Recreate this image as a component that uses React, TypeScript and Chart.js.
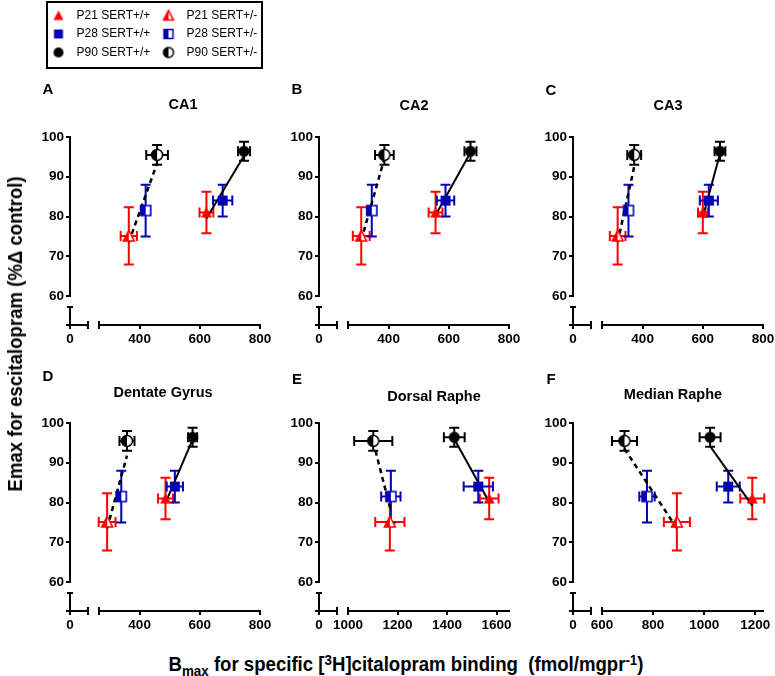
import React, { useEffect, useRef } from 'react';
import { Chart, registerables } from 'chart.js';

Chart.register(...registerables);

const FONT = '"Liberation Sans", Arial, Helvetica, sans-serif';
const RED = '#ff0000';
const BLUE = '#0000b4';
const BLACK = '#000000';

// ---- groups (order: P21 +/+, P21 +/-, P28 +/+, P28 +/-, P90 +/+, P90 +/-)
const GROUPS = ['P21 SERT+/+', 'P21 SERT+/-', 'P28 SERT+/+', 'P28 SERT+/-', 'P90 SERT+/+', 'P90 SERT+/-'];
const GROUP_COLORS = [RED, RED, BLUE, BLUE, BLACK, BLACK];
const GROUP_SHAPES = ['tri', 'tri', 'sq', 'sq', 'circ', 'circ'];
const GROUP_HALF = [false, true, false, true, false, true];

// Emax for escitalopram (% control), same for all regions
const EMAX = [81.0, 75.1, 84.0, 81.5, 96.4, 95.5];
const EMAX_SEM = [5.2, 7.2, 4.0, 6.5, 2.4, 2.5];

// Bmax per region
const CA1_BMAX = [622, 364, 676, 420, 747, 458];
const CA1_BMAX_SEM = [23, 27, 32, 15, 20, 36];
const CA2_BMAX = [556, 309, 589, 344, 672, 386];
const CA2_BMAX_SEM = [23, 28, 29, 15, 20, 31];
const CA3_BMAX = [600, 317, 620, 353, 657, 372];
const CA3_BMAX_SEM = [16, 26, 30, 12, 18, 23];
const DG_BMAX = [486, 292, 517, 339, 576, 358];
const DG_BMAX_SEM = [25, 28, 27, 15, 15, 25];
const DR_BMAX = [1570, 1169, 1526, 1173, 1429, 1102];
const DR_BMAX_SEM = [38, 59, 59, 39, 42, 77];
const MR_BMAX = [1188, 893, 1094, 776, 1023, 688];
const MR_BMAX_SEM = [47, 51, 45, 30, 41, 49];

// fitted lines: [x0, y0, x1, y1]
const CA1_FIT_WT = [622, 79.5, 747, 95.3];
const CA1_FIT_HET = [364, 73.5, 458, 93.4];
const CA2_FIT_WT = [556, 80.3, 672, 96.1];
const CA2_FIT_HET = [309, 74.0, 386, 94.6];
const CA3_FIT_WT = [600, 79.8, 657, 95.8];
const CA3_FIT_HET = [317, 73.5, 372, 92.5];
const DG_FIT_WT = [486, 79.9, 576, 95.8];
const DG_FIT_HET = [292, 73.5, 358, 91.8];
const DR_FIT_WT = [1429, 96.0, 1570, 80.1];
const DR_FIT_HET = [1102, 95.2, 1173, 77.9];
const MR_FIT_WT = [1023, 94.2, 1188, 79.2];
const MR_FIT_HET = [688, 93.5, 893, 73.5];

// tick labels
const Y_TICKS = [60, 70, 80, 90, 100];
const HIPPO_TICKS = [400, 600, 800];
const DR_TICKS = [1000, 1200, 1400, 1600];
const MR_TICKS = [600, 800, 1000, 1200];

const PANELS = [
  { letter: 'A', title: 'CA1', bmax: CA1_BMAX, sem: CA1_BMAX_SEM, fitWT: CA1_FIT_WT, fitHet: CA1_FIT_HET, ticks: HIPPO_TICKS, xmin: 265, xmax: 800, col: 0, row: 0, titleDx: 113, titleDy: -32, letterDy: -47 },
  { letter: 'B', title: 'CA2', bmax: CA2_BMAX, sem: CA2_BMAX_SEM, fitWT: CA2_FIT_WT, fitHet: CA2_FIT_HET, ticks: HIPPO_TICKS, xmin: 265, xmax: 800, col: 1, row: 0, titleDx: 95, titleDy: -31, letterDy: -47 },
  { letter: 'C', title: 'CA3', bmax: CA3_BMAX, sem: CA3_BMAX_SEM, fitWT: CA3_FIT_WT, fitHet: CA3_FIT_HET, ticks: HIPPO_TICKS, xmin: 265, xmax: 800, col: 2, row: 0, titleDx: 95, titleDy: -31, letterDy: -46 },
  { letter: 'D', title: 'Dentate Gyrus', bmax: DG_BMAX, sem: DG_BMAX_SEM, fitWT: DG_FIT_WT, fitHet: DG_FIT_HET, ticks: HIPPO_TICKS, xmin: 265, xmax: 800, col: 0, row: 1, titleDx: 93, titleDy: -30, letterDy: -46 },
  { letter: 'E', title: 'Dorsal Raphe', bmax: DR_BMAX, sem: DR_BMAX_SEM, fitWT: DR_FIT_WT, fitHet: DR_FIT_HET, ticks: DR_TICKS, xmin: 1000, xmax: 1650, col: 1, row: 1, titleDx: 115, titleDy: -26, letterDy: -43 },
  { letter: 'F', title: 'Median Raphe', bmax: MR_BMAX, sem: MR_BMAX_SEM, fitWT: MR_FIT_WT, fitHet: MR_FIT_HET, ticks: MR_TICKS, xmin: 600, xmax: 1230, col: 2, row: 1, titleDx: 100, titleDy: -28, letterDy: -43 },
];

const COL_X = [70, 319, 573];
const ROW_Y = [137, 423];
const LEFT_SPACE = 62;
const TOP_SPACE = 62;
const PLOT_W = 190;
const PLOT_H = 188;
const RIGHT_SPACE = 16;
const BOTTOM_SPACE = 30;
const CW = LEFT_SPACE + PLOT_W + RIGHT_SPACE;
const CH = TOP_SPACE + PLOT_H + BOTTOM_SPACE;

function makeMarker(shape: string, color: string, half: boolean, s: number): HTMLCanvasElement {
  const W = 2 * Math.ceil(s / 2) + 4;
  const c = document.createElement('canvas');
  c.width = W;
  c.height = W;
  const g = c.getContext('2d') as CanvasRenderingContext2D;
  const cx = W / 2;
  const cy = W / 2;
  const r = s / 2;
  const path = () => {
    g.beginPath();
    if (shape === 'tri') {
      const h = s * 0.92;
      g.moveTo(cx, cy - h / 2 - 0.5);
      g.lineTo(cx + r, cy + h / 2);
      g.lineTo(cx - r, cy + h / 2);
      g.closePath();
    } else if (shape === 'sq') {
      g.rect(cx - r, cy - r, s, s);
    } else {
      g.arc(cx, cy, r, 0, Math.PI * 2);
    }
  };
  if (!half) {
    path();
    g.fillStyle = color;
    g.fill();
    return c;
  }
  path();
  g.fillStyle = '#ffffff';
  g.fill();
  g.save();
  path();
  g.clip();
  g.fillStyle = color;
  g.fillRect(0, 0, cx, W);
  g.restore();
  path();
  g.strokeStyle = color;
  g.lineWidth = 1.5;
  g.stroke();
  return c;
}

const errorBarPlugin = {
  id: 'errorBars',
  beforeDatasetsDraw(chart: any) {
    const xs = chart.scales.x2;
    const ys = chart.scales.y2;
    const ctx = chart.ctx;
    ctx.save();
    ctx.lineWidth = 2;
    chart.data.datasets.forEach((ds: any) => {
      if (!ds.errColor) return;
      ctx.strokeStyle = ds.errColor;
      ds.data.forEach((pt: any) => {
        const cx = xs.getPixelForValue(pt.x);
        const cy = ys.getPixelForValue(pt.y);
        const xl = xs.getPixelForValue(pt.x - pt.xe);
        const xr = xs.getPixelForValue(pt.x + pt.xe);
        const yt = ys.getPixelForValue(pt.y + pt.ye);
        const yb = ys.getPixelForValue(pt.y - pt.ye);
        const c = 5;
        ctx.beginPath();
        ctx.moveTo(xl, cy);
        ctx.lineTo(xr, cy);
        ctx.moveTo(xl, cy - c);
        ctx.lineTo(xl, cy + c);
        ctx.moveTo(xr, cy - c);
        ctx.lineTo(xr, cy + c);
        ctx.moveTo(cx, yt);
        ctx.lineTo(cx, yb);
        ctx.moveTo(cx - c, yt);
        ctx.lineTo(cx + c, yt);
        ctx.moveTo(cx - c, yb);
        ctx.lineTo(cx + c, yb);
        ctx.stroke();
      });
    });
    // axis break caps
    const x1 = chart.scales.x1;
    const x2 = chart.scales.x2;
    const y1 = chart.scales.y1;
    const ay = x1.top;
    ctx.strokeStyle = BLACK;
    ctx.beginPath();
    ctx.moveTo(x1.right, ay - 4);
    ctx.lineTo(x1.right, ay + 4);
    ctx.moveTo(x2.left, ay - 4);
    ctx.lineTo(x2.left, ay + 4);
    const ax = y1.right;
    ctx.moveTo(ax - 3, y1.top);
    ctx.lineTo(ax + 3, y1.top);
    ctx.stroke();
    ctx.restore();
  },
};

const panelTextPlugin = {
  id: 'panelText',
  afterDraw(chart: any, _args: any, opts: any) {
    const { left, top } = chart.chartArea;
    const ctx = chart.ctx;
    ctx.save();
    ctx.fillStyle = BLACK;
    ctx.textAlign = 'center';
    ctx.textBaseline = 'middle';
    ctx.font = `bold 15px ${FONT}`;
    ctx.fillText(opts.letter, left - 22, top + opts.letterDy);
    ctx.font = `bold 14.5px ${FONT}`;
    ctx.fillText(opts.title, left + opts.titleDx, top + opts.titleDy);
    ctx.restore();
  },
};

const plainLabel = (v: any) => String(v);

function axisBase(extra: any) {
  const { ticks: extraTicks, ...rest } = extra;
  return {
    type: 'linear',
    grid: { drawOnChartArea: false, drawTicks: true, tickLength: 4, color: BLACK, lineWidth: 2 },
    border: { display: true, color: BLACK, width: 2 },
    ticks: {
      color: BLACK,
      font: { family: FONT, size: 13.5, weight: 'bold' },
      padding: 2,
      autoSkip: false,
      maxRotation: 0,
      minRotation: 0,
      callback: plainLabel,
      ...(extraTicks || {}),
    },
    ...rest,
  };
}

function Panel({ p }: { p: any }) {
  const ref = useRef<HTMLCanvasElement>(null);
  useEffect(() => {
    const markers = GROUPS.map((_, i) =>
      makeMarker(GROUP_SHAPES[i], GROUP_COLORS[i], GROUP_HALF[i], GROUP_SHAPES[i] === 'sq' ? 10 : 11)
    );
    const pointSets = GROUPS.map((g, i) => ({
      label: g,
      data: [{ x: p.bmax[i], y: EMAX[i], xe: p.sem[i], ye: EMAX_SEM[i] }],
      xAxisID: 'x2',
      yAxisID: 'y2',
      pointStyle: markers[i],
      pointRadius: 6,
      errColor: GROUP_COLORS[i],
      clip: false,
    }));
    const lineSets = [
      {
        label: 'fit SERT+/+',
        data: [{ x: p.fitWT[0], y: p.fitWT[1] }, { x: p.fitWT[2], y: p.fitWT[3] }],
        showLine: true, borderColor: BLACK, borderWidth: 2, pointRadius: 0, xAxisID: 'x2', yAxisID: 'y2', clip: false,
      },
      {
        label: 'fit SERT+/-',
        data: [{ x: p.fitHet[0], y: p.fitHet[1] }, { x: p.fitHet[2], y: p.fitHet[3] }],
        showLine: true, borderColor: BLACK, borderWidth: 2.5, borderDash: [5, 4], pointRadius: 0, xAxisID: 'x2', yAxisID: 'y2', clip: false,
      },
    ];
    const chart = new Chart(ref.current as HTMLCanvasElement, {
      type: 'scatter',
      data: { datasets: [...pointSets, ...lineSets] as any },
      options: {
        animation: false,
        responsive: false,
        devicePixelRatio: 1,
        layout: { padding: { left: 0, top: TOP_SPACE, right: RIGHT_SPACE, bottom: 0 } },
        plugins: {
          legend: { display: false },
          tooltip: { enabled: false },
          panelText: { letter: p.letter, title: p.title, titleDx: p.titleDx, titleDy: p.titleDy, letterDy: p.letterDy },
        } as any,
        scales: {
          x1: axisBase({
            position: 'bottom', stack: 'xs', stackWeight: 18, weight: 1, min: 0, max: 60,
            afterBuildTicks: (s: any) => { s.ticks = [{ value: 0 }]; },
            afterFit: (s: any) => { s.height = BOTTOM_SPACE; },
          }),
          xg: { type: 'linear', display: false, position: 'bottom', stack: 'xs', stackWeight: 11, weight: 2, min: 0, max: 1 },
          x2: axisBase({
            position: 'bottom', stack: 'xs', stackWeight: 161, weight: 3, min: p.xmin, max: p.xmax,
            afterBuildTicks: (s: any) => { s.ticks = p.ticks.map((v: number) => ({ value: v })); },
            afterFit: (s: any) => { s.height = BOTTOM_SPACE; },
          }),
          y2: axisBase({
            position: 'left', stack: 'ys', stackWeight: 159, weight: 3, min: 60, max: 100,
            afterBuildTicks: (s: any) => { s.ticks = Y_TICKS.map((v) => ({ value: v })); },
            afterFit: (s: any) => { s.width = LEFT_SPACE; },
          }),
          yg: { type: 'linear', display: false, position: 'left', stack: 'ys', stackWeight: 11, weight: 2, min: 0, max: 1 },
          y1: axisBase({
            position: 'left', stack: 'ys', stackWeight: 18, weight: 1, min: 0, max: 10,
            ticks: { display: false },
            afterBuildTicks: (s: any) => { s.ticks = [{ value: 0 }]; },
            afterFit: (s: any) => { s.width = LEFT_SPACE; },
          }),
        } as any,
      },
      plugins: [errorBarPlugin, panelTextPlugin],
    });
    return () => chart.destroy();
  }, []);
  const left = COL_X[p.col] - LEFT_SPACE;
  const top = ROW_Y[p.row] - TOP_SPACE;
  return (
    <canvas
      ref={ref}
      width={CW}
      height={CH}
      style={{ position: 'absolute', left, top, width: CW, height: CH }}
    />
  );
}

// one legend column (three entries stacked)
const LEG_W = 150;
const LEG_H = 200;
function LegendColumn({ idx, left }: { idx: number[]; left: number }) {
  const ref = useRef<HTMLCanvasElement>(null);
  useEffect(() => {
    const chart = new Chart(ref.current as HTMLCanvasElement, {
      type: 'scatter',
      data: {
        datasets: idx.map((i) => ({
          label: GROUPS[i],
          data: [],
          pointStyle: makeMarker(GROUP_SHAPES[i], GROUP_COLORS[i], GROUP_HALF[i], GROUP_SHAPES[i] === 'sq' ? 9 : 10),
          backgroundColor: GROUP_COLORS[i],
          borderColor: GROUP_COLORS[i],
        })) as any,
      },
      options: {
        animation: false,
        responsive: false,
        devicePixelRatio: 1,
        layout: { padding: 0 },
        scales: { x: { display: false }, y: { display: false } },
        plugins: {
          tooltip: { enabled: false },
          legend: {
            display: true,
            position: 'top',
            align: 'start',
            labels: {
              usePointStyle: true,
              pointStyleWidth: 24,
              boxHeight: 12,
              padding: 6.5,
              color: BLACK,
              font: { family: FONT, size: 12 },
            },
          },
        } as any,
      },
    });
    return () => chart.destroy();
  }, []);
  return (
    <canvas ref={ref} width={LEG_W} height={LEG_H} style={{ position: 'absolute', left, top: 3, width: LEG_W, height: LEG_H }} />
  );
}

function Legend() {
  return (
    <>
      <div
        style={{
          position: 'absolute', left: 46, top: 1, width: 217, height: 68,
          border: '2px solid #000', boxSizing: 'border-box',
        }}
      />
      <LegendColumn idx={[0, 2, 4]} left={40} />
      <LegendColumn idx={[1, 3, 5]} left={150} />
    </>
  );
}

export default function App() {
  const sub = { fontSize: '0.72em', position: 'relative' as const, top: '0.35em' };
  const sup = { fontSize: '0.72em', position: 'relative' as const, top: '-0.45em' };
  return (
    <div style={{ position: 'absolute', left: 0, top: 0, width: 775, height: 676, background: '#fff', overflow: 'hidden', fontFamily: FONT }}>
      <Legend />
      {PANELS.map((p) => (
        <Panel key={p.letter} p={p} />
      ))}
      <div
        style={{
          position: 'absolute', left: 15, top: 334, transform: 'translate(-50%, -50%) rotate(-90deg) scaleX(0.93)',
          font: `bold 20px ${FONT}`, whiteSpace: 'pre', lineHeight: 1, color: BLACK,
        }}
      >
        Emax for escitalopram (%Δ control)
      </div>
      <div
        style={{
          position: 'absolute', left: 406, top: 664, transform: 'translate(-50%, -50%) scaleX(0.93)',
          font: `bold 20px ${FONT}`, whiteSpace: 'pre', lineHeight: 1, color: BLACK,
        }}
      >
        B<span style={sub}>max</span> for specific [<span style={sup}>3</span>H]citalopram binding  (fmol/mgpr<span style={sup}>-1</span>)
      </div>
    </div>
  );
}
